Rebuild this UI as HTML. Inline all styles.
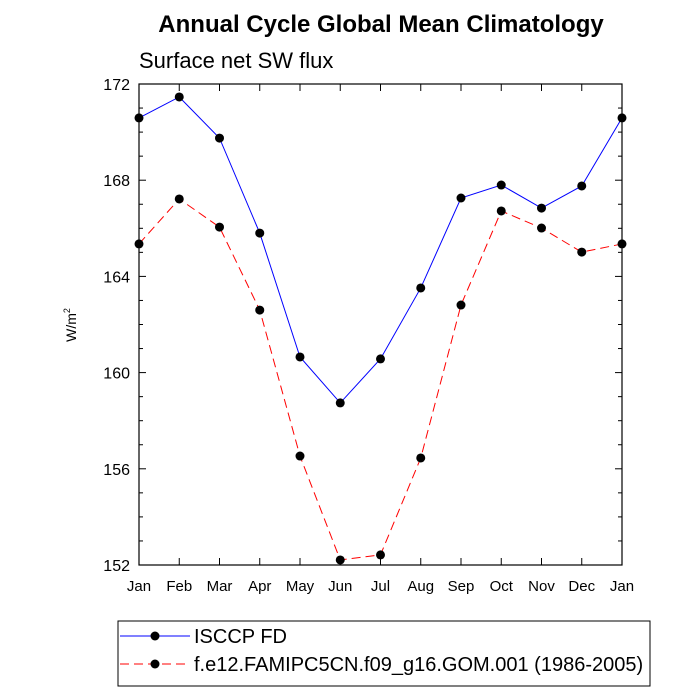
<!DOCTYPE html>
<html><head><meta charset="utf-8"><style>
body{margin:0;background:#fff;}
svg{display:block;font-family:"Liberation Sans",sans-serif;}
</style></head><body>
<svg id="chart" width="700" height="700">
<text x="381" y="32" text-anchor="middle" font-size="24" font-weight="bold">Annual Cycle Global Mean Climatology</text>
<text x="139" y="68" font-size="22">Surface net SW flux</text>
<text transform="translate(76,325) rotate(-90)" text-anchor="middle" font-size="14">W/m<tspan font-size="9" dy="-6">2</tspan></text>
<g id="axes"></g><g id="series"></g>
<rect x="118" y="621" width="532" height="65" fill="none" stroke="#000" stroke-width="1"/>
<g>
<line x1="120" y1="636" x2="190" y2="636" stroke="#00f" stroke-width="1"/>
<circle cx="155" cy="636" r="4.5" fill="#000"/>
<text x="194" y="643" font-size="20">ISCCP FD</text></g>
<g>
<line x1="120" y1="664" x2="190" y2="664" stroke="#f00" stroke-width="1" stroke-dasharray="9,5"/>
<circle cx="155" cy="664" r="4.5" fill="#000"/>
<text x="194" y="671" font-size="20">f.e12.FAMIPC5CN.f09_g16.GOM.001 (1986-2005)</text></g>
</svg>
<script>
const months=["Jan","Feb","Mar","Apr","May","Jun","Jul","Aug","Sep","Oct","Nov","Dec","Jan"];
const isccp=[170.59,171.46,169.75,165.80,160.65,158.74,160.57,163.52,167.26,167.80,166.84,167.76,170.59];
const model=[165.35,167.22,166.05,162.60,156.53,152.21,152.42,156.45,162.81,166.72,166.01,165.01,165.35];
const yTicks=[152,156,160,164,168,172];
const NS="http://www.w3.org/2000/svg";
const L=139,R=622,T=84,B=565,ymin=152,ymax=172;
const xs=i=>L+(R-L)*i/(months.length-1);
const ys=v=>B-(B-T)*(v-ymin)/(ymax-ymin);
function mk(tag,at,parent){const e=document.createElementNS(NS,tag);for(const k in at)e.setAttribute(k,at[k]);parent.appendChild(e);return e;}
const ax=document.getElementById('axes');
const frame=mk('rect',{x:L,y:T,width:R-L,height:B-T,fill:'none',stroke:'#000','stroke-width':1.2},ax);


months.forEach((m,i)=>{const x=xs(i);
mk('line',{x1:x,y1:B,x2:x,y2:B-7,stroke:'#000'},ax);
mk('line',{x1:x,y1:T,x2:x,y2:T+7,stroke:'#000'},ax);
const t=mk('text',{x:x,y:B+26,'text-anchor':'middle','font-size':15},ax);t.textContent=m;

});
for(let v=ymin;v<=ymax;v+=1){const y=ys(v);const major=yTicks.includes(v);const len=major?7:4;
mk('line',{x1:L,y1:y,x2:L+len,y2:y,stroke:'#000'},ax);
mk('line',{x1:R,y1:y,x2:R-len,y2:y,stroke:'#000'},ax);}
yTicks.forEach(v=>{const t=mk('text',{x:L-9,y:ys(v)+6,'text-anchor':'end','font-size':16},ax);t.textContent=v;

});
const sg=document.getElementById('series');
function draw(vals,color,dash,name){
const p=mk('polyline',{points:vals.map((v,i)=>xs(i)+','+ys(v)).join(' '),fill:'none',stroke:color,'stroke-width':1,'stroke-dasharray':dash},sg);


vals.forEach((v,i)=>{const c=mk('circle',{cx:xs(i),cy:ys(v),r:4.5,fill:'#000'},sg);

});}
draw(isccp,'#00f','none','isccp');
draw(model,'#f00','9,5','model');
</script>
</body></html>
